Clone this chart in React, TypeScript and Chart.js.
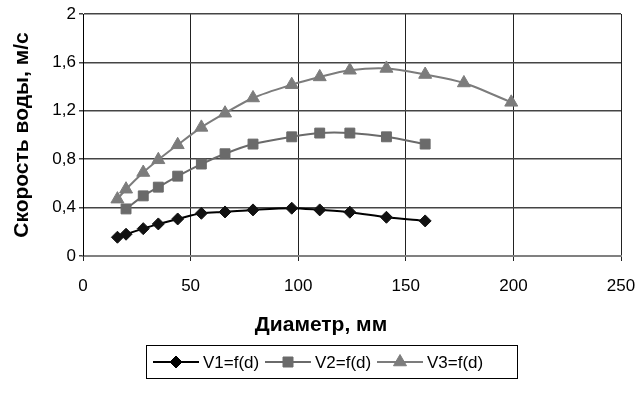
import React, { useEffect, useRef } from 'react';
import { Chart, registerables } from 'chart.js';
Chart.register(...registerables);

const diam1 = [16, 20, 28, 35, 44, 55, 66, 79, 97, 110, 124, 141, 159];
const v1 = [0.155, 0.18, 0.226, 0.265, 0.306, 0.353, 0.364, 0.381, 0.395, 0.381, 0.362, 0.32, 0.29];
const diam2 = [20, 28, 35, 44, 55, 66, 79, 97, 110, 124, 141, 159];
const v2 = [0.389, 0.497, 0.569, 0.66, 0.76, 0.845, 0.925, 0.985, 1.016, 1.016, 0.985, 0.925];
const diam3 = [16, 20, 28, 35, 44, 55, 66, 79, 97, 110, 124, 141, 159, 177, 199];
const v3 = [0.47, 0.552, 0.69, 0.795, 0.919, 1.063, 1.18, 1.306, 1.416, 1.48, 1.535, 1.55, 1.5, 1.43, 1.27];

const seriesNames = ['V1=f(d)', 'V2=f(d)', 'V3=f(d)'];
const xTitle = 'Диаметр, мм';
const yTitle = 'Скорость воды, м/с';

const FONT = '"Liberation Sans", Arial, sans-serif';

const c1 = '#000000';
const c2 = '#6a6a6a';
const c3 = '#7c7c7c';

function drawMarker(ctx: CanvasRenderingContext2D, kind: string, x: number, y: number, color: string) {
  ctx.save();
  ctx.fillStyle = color;
  ctx.strokeStyle = color;
  ctx.lineWidth = 1;
  ctx.beginPath();
  if (kind === 'diamond') {
    const r = 6;
    ctx.moveTo(x, y - r);
    ctx.lineTo(x + r, y);
    ctx.lineTo(x, y + r);
    ctx.lineTo(x - r, y);
  } else if (kind === 'square') {
    const s = 5;
    ctx.rect(x - s, y - s, 2 * s, 2 * s);
  } else {
    const r = 7.5;
    ctx.moveTo(x, y - r);
    ctx.lineTo(x + r * Math.sin((2 * Math.PI) / 3), y - r * Math.cos((2 * Math.PI) / 3));
    ctx.lineTo(x + r * Math.sin((4 * Math.PI) / 3), y - r * Math.cos((4 * Math.PI) / 3));
  }
  ctx.closePath();
  ctx.fill();
  ctx.stroke();
  ctx.restore();
}

const decorPlugin = {
  id: 'decor',
  afterDraw(chart: any) {
    const ctx: CanvasRenderingContext2D = chart.ctx;
    ctx.save();
    ctx.fillStyle = '#000';
    ctx.font = `bold 21px ${FONT}`;
    ctx.textAlign = 'center';
    ctx.textBaseline = 'middle';
    ctx.fillText(xTitle, 321, 325);
    ctx.save();
    ctx.translate(22, 135);
    ctx.rotate(-Math.PI / 2);
    ctx.fillText(yTitle, 0, 0);
    ctx.restore();

    // legend
    ctx.strokeStyle = '#000';
    ctx.lineWidth = 1;
    ctx.strokeRect(146.5, 345.5, 371, 33);
    const kinds = ['diamond', 'square', 'triangle'];
    const colors = [c1, c2, c3];
    const starts = [153, 265, 377];
    const ly = 362;
    ctx.font = `17px ${FONT}`;
    ctx.textAlign = 'left';
    for (let i = 0; i < 3; i++) {
      const x0 = starts[i];
      ctx.strokeStyle = colors[i];
      ctx.lineWidth = 2;
      ctx.beginPath();
      ctx.moveTo(x0, ly);
      ctx.lineTo(x0 + 46, ly);
      ctx.stroke();
      drawMarker(ctx, kinds[i], x0 + 23, ly, colors[i]);
      ctx.fillStyle = '#000';
      ctx.fillText(seriesNames[i], x0 + 50, ly + 1);
    }
    ctx.restore();
  },
};

export default function App() {
  const ref = useRef<HTMLCanvasElement | null>(null);
  useEffect(() => {
    if (!ref.current) return;
    const mk = (xs: number[], ys: number[]) => xs.map((x, i) => ({ x, y: ys[i] }));
    const chart = new Chart(ref.current, {
      type: 'line',
      data: {
        datasets: [
          {
            label: seriesNames[0],
            data: mk(diam1, v1),
            borderColor: c1,
            backgroundColor: '#111',
            pointBorderColor: '#111',
            borderWidth: 2,
            pointStyle: 'rectRot',
            pointRadius: 6,
            pointBorderWidth: 1,
            tension: 0.3,
          },
          {
            label: seriesNames[1],
            data: mk(diam2, v2),
            borderColor: c2,
            backgroundColor: c2,
            pointBorderColor: c2,
            borderWidth: 2,
            pointStyle: 'rect',
            pointRadius: 7,
            pointBorderWidth: 1,
            tension: 0.3,
          },
          {
            label: seriesNames[2],
            data: mk(diam3, v3),
            borderColor: c3,
            backgroundColor: c3,
            pointBorderColor: c3,
            borderWidth: 2,
            pointStyle: 'triangle',
            pointRadius: 7.5,
            pointBorderWidth: 1,
            tension: 0.3,
          },
        ],
      },
      options: {
        animation: false,
        responsive: false,
        layout: { padding: { top: 14, right: 20, bottom: 0, left: 0 } },
        plugins: { legend: { display: false }, tooltip: { enabled: false } },
        scales: {
          x: {
            type: 'linear',
            min: 0,
            max: 250,
            ticks: { stepSize: 50, color: '#000', font: { family: FONT, size: 17 }, padding: 15 },
            grid: { color: '#222', lineWidth: 1, tickLength: 5 },
            border: { color: '#808080', width: 2 },
            afterFit: (s: any) => {
              s.height = 145;
              s.paddingLeft = 0;
              s.paddingRight = 0;
            },
          },
          y: {
            type: 'linear',
            min: 0,
            max: 2,
            ticks: {
              stepSize: 0.4,
              color: '#000',
              font: { family: FONT, size: 17 },
              padding: 3,
              callback: (v: any) => String(Math.round(Number(v) * 10) / 10).replace('.', ','),
            },
            grid: { color: '#444', lineWidth: 1.5, tickLength: 4 },
            border: { color: '#000', width: 1 },
            afterFit: (s: any) => {
              s.width = 83;
            },
          },
        },
      },
      plugins: [decorPlugin],
    });
    return () => chart.destroy();
  }, []);
  return (
    <div style={{ position: 'absolute', left: 0, top: 0, width: 641, height: 401, background: '#fff' }}>
      <canvas ref={ref} width={641} height={401} style={{ display: 'block' }} />
    </div>
  );
}
